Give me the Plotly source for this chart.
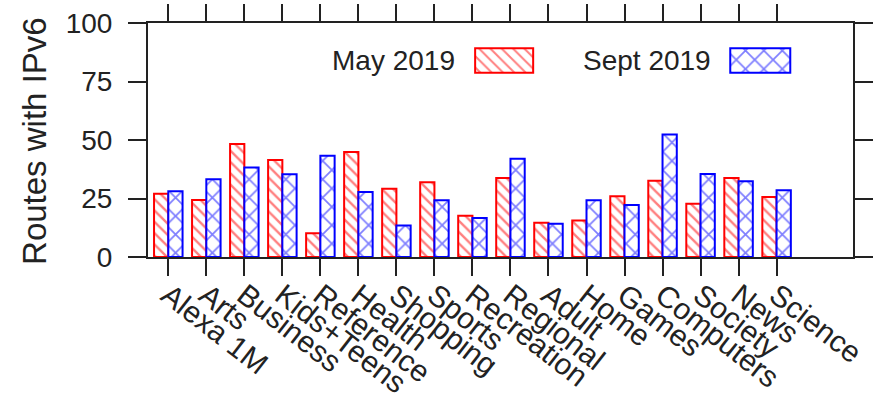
import plotly.graph_objects as go

categories = ["Alexa 1M", "Arts", "Business", "Kids+Teens", "Reference", "Health",
              "Shopping", "Sports", "Recreation", "Regional", "Adult", "Home",
              "Games", "Computers", "Society", "News", "Science"]
may_2019 = [27.0, 24.4, 48.3, 41.5, 10.2, 44.9, 29.2, 31.9, 17.6, 33.8, 14.6, 15.6,
            26.0, 32.6, 22.8, 33.8, 25.6]
sept_2019 = [28.1, 33.2, 38.2, 35.4, 43.3, 27.8, 13.5, 24.3, 16.7, 42.0, 14.2, 24.3,
             22.2, 52.4, 35.5, 32.4, 28.5]
y_ticks = [0, 25, 50, 75, 100]
series_names = ["May 2019", "Sept 2019"]

W, H = 877, 395
L, R, T, B = 148, 852.7, 22.7, 257.3
FONT = "Liberation Sans, Arial, Helvetica, sans-serif"
RED, BLUE, AX = "#ff0000", "#0000ff", "#222222"

def px_x(p):
    return (p - L) / (R - L)

def px_y(p):
    return (B - p) / (B - T)

xs = list(range(len(categories)))

fig = go.Figure()
fig.add_trace(go.Bar(
    x=xs, y=may_2019, name=series_names[0], showlegend=False,
    marker=dict(color="white", line=dict(color=RED, width=2),
                pattern=dict(shape="\\", fgcolor=RED, bgcolor="white",
                             size=8, solidity=0.3, fillmode="overlay")),
))
fig.add_trace(go.Bar(
    x=xs, y=sept_2019, name=series_names[1], showlegend=False,
    marker=dict(color="white", line=dict(color=BLUE, width=2),
                pattern=dict(shape="x", fgcolor=BLUE, bgcolor="white",
                             size=13, solidity=0.25, fillmode="overlay")),
))

# custom legend swatches (text to the left of the swatch, as in the reference)
sw = [(475, 533), (730, 790)]
sw_top, sw_bot = 48, 72.7
fig.add_trace(go.Bar(
    x=[((a + b) / 2) - L for a, b in sw], y=[sw_bot - sw_top] * 2,
    base=[B - sw_bot] * 2, width=[b - a for a, b in sw],
    xaxis="x2", yaxis="y2", showlegend=False, hoverinfo="skip",
    marker=dict(color="white", line=dict(color=[RED, BLUE], width=2),
                pattern=dict(shape=["\\", "x"], fgcolor=[RED, BLUE], bgcolor="white",
                             size=[8, 13], solidity=0.25, fillmode="overlay")),
))

for name, right in zip(series_names, [457, 713]):
    fig.add_annotation(x=px_x(right), y=px_y(60), xref="paper", yref="paper",
                       text=name, showarrow=False, xanchor="right", yanchor="middle",
                       font=dict(size=28, color=AX, family=FONT))

fig.add_annotation(x=px_x(35), y=px_y(141), xref="paper", yref="paper",
                   text="Routes with IPv6", textangle=-90, showarrow=False,
                   xanchor="center", yanchor="middle",
                   font=dict(size=33, color=AX, family=FONT))

fig.update_layout(
    width=W, height=H,
    margin=dict(l=L, r=W - R, t=T, b=H - B, pad=0, autoexpand=False),
    paper_bgcolor="white", plot_bgcolor="white",
    barmode="group", bargap=0.25, bargroupgap=0,
    font=dict(family=FONT, color=AX),
    xaxis=dict(range=[-0.534, 18.01], tickmode="array", tickvals=xs, ticktext=categories,
               tickangle=38, ticks="outside", ticklen=17, tickwidth=2, tickcolor=AX,
               showline=True, linecolor=AX, linewidth=2, mirror="ticks", automargin=False,
               showgrid=False, zeroline=False, tickfont=dict(size=30, color=AX),
               ticklabelstandoff=-10),
    yaxis=dict(range=[0, 100], tickmode="array", tickvals=y_ticks, automargin=False,
               ticks="outside", ticklen=18, tickwidth=2, tickcolor=AX,
               showline=True, linecolor=AX, linewidth=2, mirror="ticks",
               showgrid=False, zeroline=False, tickfont=dict(size=28, color=AX),
               ticklabelstandoff=10),
    xaxis2=dict(range=[0, R - L], domain=[0, 1], anchor="y2", overlaying="x",
                visible=False, fixedrange=True),
    yaxis2=dict(range=[0, B - T], domain=[0, 1], anchor="x2", overlaying="y",
                visible=False, fixedrange=True),
)

fig.write_html("out.html", config={"displayModeBar": False},
               post_script="document.body.style.margin='0';")
